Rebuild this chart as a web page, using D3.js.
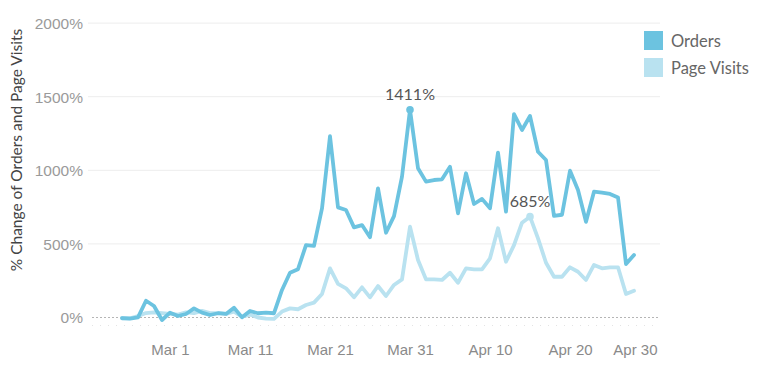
<!DOCTYPE html>
<html>
<head>
<meta charset="utf-8">
<script src="https://cdn.jsdelivr.net/npm/d3@7"></script>
<style>
  html, body { margin: 0; padding: 0; background: #fff; }
  svg { display: block; font-family: Lato, "Open Sans", sans-serif; }
</style>
</head>
<body>
<svg id="chart" width="768" height="366"></svg>
<script>
// ---- data ----
const startDate = "2020-02-24";
const orders = [
  -5, -8, 1, 114, 78, -17, 33, 10, 24, 62, 33, 17, 29, 24, 67, 1, 44, 29, 33, 29, // Feb24..Mar14
  187, 304, 328, 492, 486, 741, 1232, 748, 730, 612, 628, 545, 877, 576, 689, 957, 1411, // Mar15..Mar31
  1014, 923, 934, 939, 1024, 708, 980, 771, 806, 742, 1120, 719, 1382, 1274, 1369, 1126, 1070, // Apr1..Apr17
  690, 698, 997, 866, 650, 855, 848, 839, 816, 363, 425 // Apr18..Apr28
];
const pageVisits = [
  -3, -5, 10, 30, 35, 30, 25, 20, 35, 30, 45, 30, 30, 25, 40, 5, 20, 0, -8, -10, // Feb24..Mar14
  40, 62, 56, 85, 101, 160, 334, 228, 198, 137, 205, 137, 214, 146, 221, 259, 617, // Mar15..Mar31
  391, 259, 259, 255, 304, 236, 334, 327, 327, 402, 606, 379, 492, 644, 685, 538, 372, // Apr1..Apr17
  277, 277, 341, 311, 255, 357, 334, 341, 341, 160, 182 // Apr18..Apr28
];
const yTicks = [0, 500, 1000, 1500, 2000];
const xTickLabels = ["Mar 1", "Mar 11", "Mar 21", "Mar 31", "Apr 10", "Apr 20", "Apr 30"];
const xTickDates = ["2020-03-01", "2020-03-11", "2020-03-21", "2020-03-31", "2020-04-10", "2020-04-20", "2020-04-30"];
const seriesNames = ["Orders", "Page Visits"];
const seriesColors = ["#6cc3e0", "#b9e2f0"];
const annotations = [
  { series: 0, date: "2020-03-31", label: "1411%" },
  { series: 1, date: "2020-04-15", label: "685%" }
];

// ---- build ----
const parse = d3.utcParse("%Y-%m-%d");
const day0 = parse(startDate);
const dates = orders.map((_, i) => d3.utcDay.offset(day0, i));
const series = [orders, pageVisits].map((vals, s) =>
  vals.map((v, i) => ({ date: dates[i], value: v })));

const svg = d3.select("#chart");
const x = d3.scaleUtc()
  .domain([parse("2020-02-20"), parse("2020-04-30")])
  .range([90, 650]);
const y = d3.scaleLinear().domain([0, 2000]).range([317.5, 23.1]);
const gridX0 = 88, gridX1 = 660;

// gridlines
svg.append("g").selectAll("line")
  .data(yTicks.filter(t => t !== 0))
  .join("line")
  .attr("x1", gridX0).attr("x2", gridX1)
  .attr("y1", d => y(d)).attr("y2", d => y(d))
  .attr("stroke", "#ededed").attr("stroke-width", 1);

// zero line (dotted)
svg.append("line")
  .attr("x1", gridX0 + 4).attr("x2", gridX1)
  .attr("y1", y(0)).attr("y2", y(0))
  .attr("stroke", "#b5b5b5").attr("stroke-width", 1)
  .attr("stroke-dasharray", "2,2");

// faint day ticks row
svg.append("line")
  .attr("x1", gridX0 + 4).attr("x2", gridX1)
  .attr("y1", y(0) + 8).attr("y2", y(0) + 8)
  .attr("stroke", "#e4e4e4").attr("stroke-width", 1)
  .attr("stroke-dasharray", "1,7");

// y axis
const yAxis = d3.axisLeft(y).tickValues(yTicks).tickFormat(d => d + "%").tickSize(0).tickPadding(0);
const yg = svg.append("g").attr("transform", "translate(83,0)").call(yAxis);
yg.select(".domain").remove();
yg.selectAll("text").attr("fill", "#9a9a9a").style("font-size", "15.5px").attr("dy", "0.35em");

// x axis
const xAxis = d3.axisBottom(x)
  .tickValues(xTickDates.map(parse))
  .tickFormat((d, i) => xTickLabels[i])
  .tickSize(0).tickPadding(0);
const xg = svg.append("g").attr("transform", "translate(0,355)").call(xAxis);
xg.select(".domain").remove();
xg.selectAll("text").attr("fill", "#8a8a8a").style("font-size", "15px").attr("dy", "0");
// last label is kept inside the pane (as the original tool does)
xg.selectAll(".tick").filter((d, i, n) => i === n.length - 1)
  .select("text").attr("text-anchor", "end").attr("dx", gridX1 - 3 - x(parse("2020-04-30")));

// y title
svg.append("text")
  .attr("transform", "translate(22,150) rotate(-90)")
  .attr("text-anchor", "middle")
  .attr("fill", "#444")
  .style("font-size", "15.5px")
  .text("% Change of Orders and Page Visits");

// lines
const line = d3.line().x(d => x(d.date)).y(d => y(d.value));
svg.append("g").selectAll("path")
  .data([series[1], series[0]].map((d, k) => ({ pts: d, color: seriesColors[1 - k] })))
  .join("path")
  .attr("d", d => line(d.pts))
  .attr("fill", "none")
  .attr("stroke", d => d.color)
  .attr("stroke-width", 3.8)
  .attr("stroke-linejoin", "round")
  .attr("stroke-linecap", "round");

// annotations
annotations.forEach(a => {
  const dt = parse(a.date);
  const idx = dates.findIndex(d => +d === +dt);
  const v = series[a.series][idx].value;
  svg.append("circle")
    .attr("cx", x(dt)).attr("cy", y(v)).attr("r", 3.8)
    .attr("fill", seriesColors[a.series]);
  svg.append("text")
    .attr("x", x(dt)).attr("y", y(v) - 10)
    .attr("text-anchor", "middle")
    .attr("fill", "#555")
    .style("font-size", "16px")
    .text(a.label);
});

// legend
const lg = svg.append("g").attr("transform", "translate(644,31)");
const items = lg.selectAll("g").data(seriesNames).join("g")
  .attr("transform", (d, i) => `translate(0,${i * 27})`);
items.append("rect").attr("width", 19).attr("height", 19)
  .attr("fill", (d, i) => seriesColors[i]);
items.append("text").attr("x", 27).attr("y", 15.5)
  .attr("fill", "#666").style("font-size", "16.5px").text(d => d);
</script>
</body>
</html>
